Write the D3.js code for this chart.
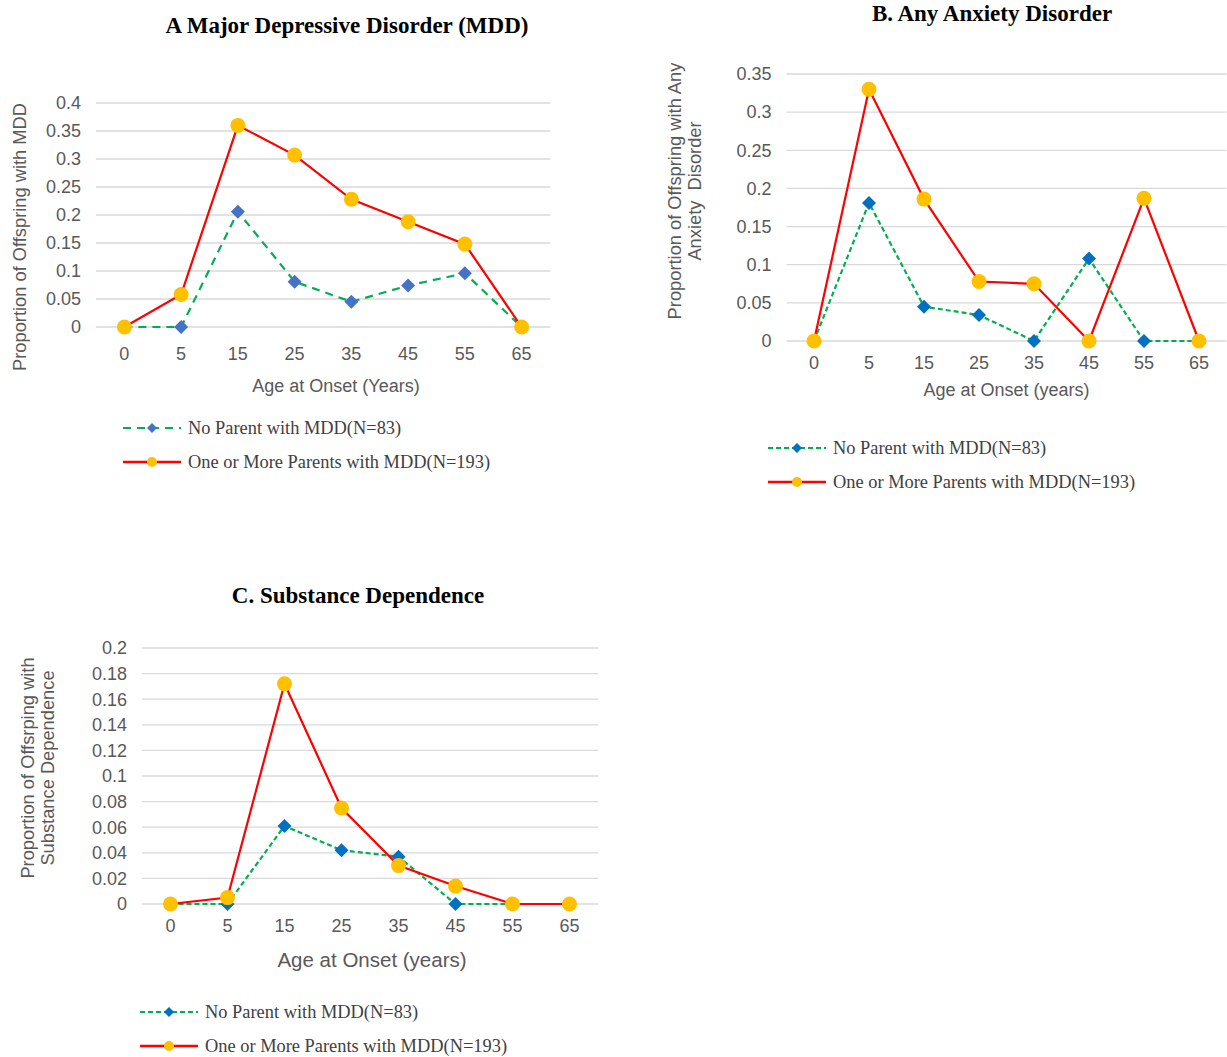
<!DOCTYPE html>
<html>
<head>
<meta charset="utf-8">
<script src="https://cdn.jsdelivr.net/npm/d3@7"></script>
<style>
  body { margin: 0; background: #fff; }
  svg { display: block; }
</style>
</head>
<body>
<svg id="chart" width="1227" height="1057"></svg>
<script>
// categories (age at onset)
let ages = ["0", "5", "15", "25", "35", "45", "55", "65"];

// A: Major Depressive Disorder
let mddNoParent = [0, 0, 0.206, 0.081, 0.045, 0.074, 0.096, 0];
let mddParent = [0, 0.058, 0.36, 0.307, 0.228, 0.188, 0.148, 0];
let mddTicks = [0, 0.05, 0.1, 0.15, 0.2, 0.25, 0.3, 0.35, 0.4];

// B: Any Anxiety Disorder
let anxNoParent = [0, 0.181, 0.045, 0.034, 0, 0.108, 0, 0];
let anxParent = [0, 0.33, 0.186, 0.078, 0.075, 0, 0.187, 0];
let anxTicks = [0, 0.05, 0.1, 0.15, 0.2, 0.25, 0.3, 0.35];

// C: Substance Dependence
let subNoParent = [0, 0, 0.061, 0.042, 0.037, 0, 0, 0];
let subParent = [0, 0.005, 0.172, 0.075, 0.03, 0.014, 0, 0];
let subTicks = [0, 0.02, 0.04, 0.06, 0.08, 0.1, 0.12, 0.14, 0.16, 0.18, 0.2];

let legendLabels = ["No Parent with MDD(N=83)", "One or More Parents with MDD(N=193)"];

let svg = d3.select("#chart");
let sans = "'Liberation Sans', Arial, sans-serif";
let serif = "'Liberation Serif', 'Times New Roman', serif";
let textColor = "#595959";

function diamond(g, x, y, r, color) {
    g.append("path")
        .attr("d", "M" + x + "," + (y - r) + "L" + (x + r) + "," + y + "L" + x + "," + (y + r) + "L" + (x - r) + "," + y + "Z")
        .attr("fill", color);
}

function panel(p) {
    let x = d3.scalePoint()
        .domain(ages)
        .range([p.left, p.right])
        .padding(0.5);
    let y = d3.scaleLinear()
        .domain([0, p.max])
        .range([p.bottom, p.top]);

    let g = svg.append("g");

    // gridlines
    g.selectAll(".grid")
        .data(p.ticks)
        .enter()
        .append("line")
        .attr("x1", p.left)
        .attr("x2", p.right)
        .attr("y1", d => y(d))
        .attr("y2", d => y(d))
        .attr("stroke", "#d9d9d9")
        .attr("stroke-width", 1.3);

    // y tick labels
    g.selectAll(".ytick")
        .data(p.ticks)
        .enter()
        .append("text")
        .attr("x", p.left - 15)
        .attr("y", d => y(d))
        .attr("dy", "0.35em")
        .attr("text-anchor", "end")
        .style("font-family", sans)
        .style("font-size", "18px")
        .attr("fill", textColor)
        .text(d => d);

    // x tick labels
    g.selectAll(".xtick")
        .data(ages)
        .enter()
        .append("text")
        .attr("x", d => x(d))
        .attr("y", p.bottom + p.xTickDy)
        .attr("text-anchor", "middle")
        .style("font-family", sans)
        .style("font-size", "18px")
        .attr("fill", textColor)
        .text(d => d);

    // axis titles
    g.append("text")
        .attr("x", (p.left + p.right) / 2 + p.xTitleShift)
        .attr("y", p.bottom + p.xTitleDy)
        .attr("text-anchor", "middle")
        .style("font-family", sans)
        .style("font-size", p.xTitleSize + "px")
        .attr("fill", textColor)
        .text(p.xTitle);

    p.yTitle.forEach(function (line, i) {
        g.append("text")
            .attr("transform", "translate(" + (p.yTitleX + i * 20) + "," + p.yTitleY + ") rotate(-90)")
            .attr("text-anchor", "middle")
            .attr("dy", "0.35em")
            .style("font-family", sans)
            .style("font-size", "18.3px")
            .attr("fill", textColor)
            .style("white-space", "pre")
            .text(line);
    });

    // chart title
    g.append("text")
        .attr("x", p.titleX)
        .attr("y", p.titleY)
        .attr("text-anchor", "middle")
        .style("font-family", serif)
        .style("font-size", "23px")
        .style("font-weight", "bold")
        .attr("fill", "#000")
        .text(p.title);

    let line = d3.line()
        .x((d, i) => x(ages[i]))
        .y(d => y(d));

    // no parent series (green dashed, blue diamonds)
    g.append("path")
        .datum(p.noParent)
        .attr("d", line)
        .attr("fill", "none")
        .attr("stroke", "#00b050")
        .attr("stroke-width", 2.2)
        .attr("stroke-dasharray", p.dash);
    p.noParent.forEach(function (v, i) {
        diamond(g, x(ages[i]), y(v), 7, p.diamondColor);
    });

    // parent series (red solid, yellow circles)
    g.append("path")
        .datum(p.parent)
        .attr("d", line)
        .attr("fill", "none")
        .attr("stroke", "#ff0000")
        .attr("stroke-width", 2.2);
    g.selectAll(".dot")
        .data(p.parent)
        .enter()
        .append("circle")
        .attr("cx", (d, i) => x(ages[i]))
        .attr("cy", d => y(d))
        .attr("r", 7.5)
        .attr("fill", "#ffc000");

    // legend
    let lx = p.legendX, ly = p.legendY;
    g.append("line")
        .attr("x1", lx).attr("x2", lx + 58)
        .attr("y1", ly).attr("y2", ly)
        .attr("stroke", "#00b050")
        .attr("stroke-width", 2.2)
        .attr("stroke-dasharray", p.legendDash);
    diamond(g, lx + 29, ly, 5, p.diamondColor);
    g.append("line")
        .attr("x1", lx).attr("x2", lx + 58)
        .attr("y1", ly + 34).attr("y2", ly + 34)
        .attr("stroke", "#ff0000")
        .attr("stroke-width", 2.5);
    g.append("circle")
        .attr("cx", lx + 29).attr("cy", ly + 34)
        .attr("r", 5)
        .attr("fill", "#ffc000");
    legendLabels.forEach(function (t, i) {
        g.append("text")
            .attr("x", lx + 65)
            .attr("y", ly + i * 34)
            .attr("dy", "0.35em")
            .style("font-family", serif)
            .style("font-size", "18.4px")
            .attr("fill", "#404040")
            .text(t);
    });
}

panel({
    left: 96, right: 550, top: 103, bottom: 327, max: 0.4, ticks: mddTicks,
    noParent: mddNoParent, parent: mddParent, diamondColor: "#4472c4",
    dash: "8,6", legendDash: "8,6", xTickDy: 33,
    title: "A Major Depressive Disorder (MDD)", titleX: 347, titleY: 33,
    xTitle: "Age at Onset (Years)", xTitleShift: 13, xTitleDy: 65, xTitleSize: 18,
    yTitle: ["Proportion of Offspring with MDD"], yTitleX: 20, yTitleY: 237,
    legendX: 123, legendY: 428
});

panel({
    left: 786.5, right: 1226.5, top: 74, bottom: 341, max: 0.35, ticks: anxTicks,
    noParent: anxNoParent, parent: anxParent, diamondColor: "#0070c0",
    dash: "5,3", legendDash: "5,3", xTickDy: 28,
    title: "B. Any Anxiety Disorder", titleX: 992, titleY: 21,
    xTitle: "Age at Onset (years)", xTitleShift: 0, xTitleDy: 55, xTitleSize: 18,
    yTitle: ["Proportion of Offspring with Any", "Anxiety  Disorder"], yTitleX: 675, yTitleY: 191,
    legendX: 768, legendY: 448
});

panel({
    left: 142, right: 598, top: 648, bottom: 904, max: 0.2, ticks: subTicks,
    noParent: subNoParent, parent: subParent, diamondColor: "#0070c0",
    dash: "5,3", legendDash: "5,3", xTickDy: 28,
    title: "C. Substance Dependence", titleX: 358, titleY: 603,
    xTitle: "Age at Onset (years)", xTitleShift: 2, xTitleDy: 63, xTitleSize: 20.5,
    yTitle: ["Proportion of Offsrping with", "Substance Dependence"], yTitleX: 28, yTitleY: 768,
    legendX: 140, legendY: 1012
});
</script>
</body>
</html>
